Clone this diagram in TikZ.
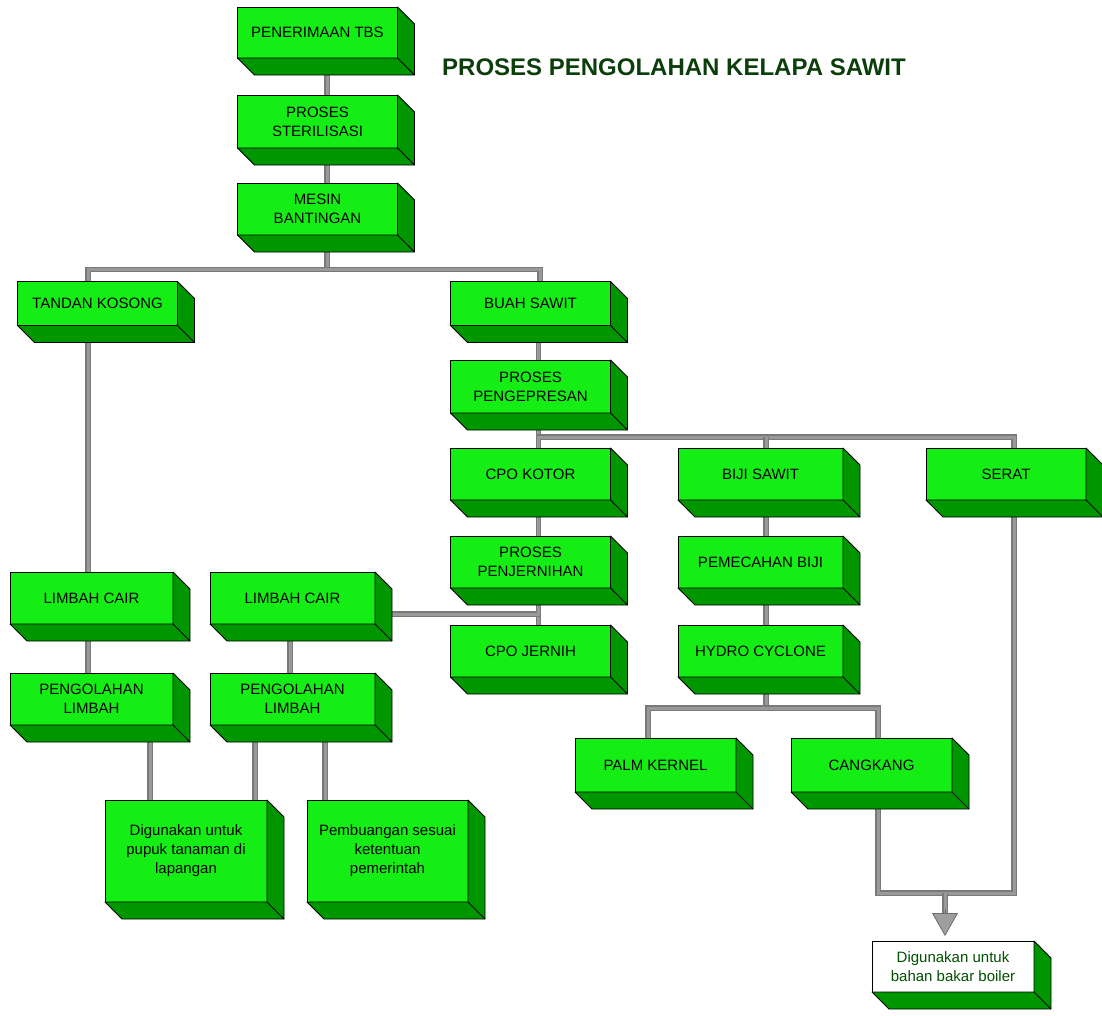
\documentclass[tikz,border=0pt]{standalone}
\usepackage{fontspec}
\setmainfont{Liberation Sans}
\usepackage{tikz}
\usetikzlibrary{arrows.meta}
\usetikzlibrary{backgrounds}

\definecolor{leaf}{RGB}{20,238,20}
\definecolor{shade}{RGB}{0,150,0}
\definecolor{title}{RGB}{12,62,12}
\definecolor{ink}{RGB}{0,80,0}

\begin{document}
\begin{tikzpicture}[x=1pt,y=-1pt,
	box/.style={rectangle,draw=black,line width=0.8pt,fill=leaf,inner sep=0pt,outer sep=0pt,
		minimum width=160,minimum height=52,align=center,font=\fontsize{15}{19}\selectfont},
	link/.style={draw=gray!95!black,line width=1.1pt,double=gray!80,double distance=3pt}]
	\useasboundingbox (0,0) rectangle (1102,1015);

	\node[text=title,font=\fontsize{24}{28}\selectfont\bfseries] (0) at (674,67) {PROSES PENGOLAHAN KELAPA SAWIT};

	\begin{scope}[every node/.style={box}]
		\node[minimum height=51] (1) at (317.5,32.5) {PENERIMAAN TBS};
		\node[minimum height=53] (2) at (317.5,121.5) {PROSES\\STERILISASI};
		\node (3) at (317.5,209) {MESIN\\BANTINGAN};
		\node[minimum height=44] (4) at (97.5,303.5) {TANDAN KOSONG};
		\node[minimum height=44] (5) at (530.5,303.5) {BUAH SAWIT};
		\node[minimum height=53] (6) at (530.5,386.5) {PROSES\\PENGEPRESAN};

		\node (7) at (530.5,474) {CPO KOTOR};
		\node[minimum width=165] (8) at (760.5,474) {BIJI SAWIT};
		\node (9) at (1006,474) {SERAT};
		\node (10) at (530.5,562) {PROSES\\PENJERNIHAN};
		\node[minimum width=165] (11) at (760.5,562) {PEMECAHAN BIJI};
		\node (12) at (530.5,651) {CPO JERNIH};
		\node[minimum width=165] (13) at (760.5,651) {HYDRO CYCLONE};
		\node[minimum width=161,minimum height=54] (14) at (655.5,765) {PALM KERNEL};
		\node[minimum width=161,minimum height=54] (15) at (871.5,765) {CANGKANG};

		\node[minimum width=163] (16) at (91.5,598) {LIMBAH CAIR};
		\node[minimum width=165] (17) at (292.5,598) {LIMBAH CAIR};
		\node[minimum width=163] (18) at (91.5,699) {PENGOLAHAN\\LIMBAH};
		\node[minimum width=165] (19) at (292.5,699) {PENGOLAHAN\\LIMBAH};
		\node[minimum width=162,minimum height=102] (20) at (186,851) {Digunakan untuk\\pupuk tanaman di\\lapangan};
		\node[minimum width=161,minimum height=102] (21) at (387.5,851) {Pembuangan sesuai\\ketentuan\\pemerintah};
		\node[minimum width=162,minimum height=51,fill=white,text=ink] (22) at (953,966.5) {Digunakan untuk\\bahan bakar boiler};
	\end{scope}

	% depth of the blocks
	\foreach \n in {1,...,22}
	{
		\filldraw[fill=shade,draw=black,line width=0.8pt,line join=round]
			(\n.south west) -- (\n.south east) -- (\n.north east) -- ++(17,17)
			-- ([shift={(17,17)}]\n.south east) -- ([shift={(17,17)}]\n.south west) -- cycle;
		\draw[line width=0.8pt] (\n.south east) -- ++(17,17);
	}

	\begin{scope}[on background layer]
		\draw[link] ([xshift=9.5]1.south) -- ([xshift=9.5]2.north);
		\draw[link] ([xshift=9.5]2.south) -- ([xshift=9.5]3.north);
		\draw[link] ([xshift=9.5]3.south) -- ++(0,35);
		\draw[link] ([xshift=-9.5]4.north) -- ++(0,-12) -| ([xshift=9.5]5.north);
		\draw[link] ([xshift=8]5.south) -- ([xshift=8]6.north);
		\draw[link] ([xshift=8]6.south) -- ++(0,24);
		\draw[link] ([xshift=8]7.north) -- ++(0,-11) -| ([xshift=8]9.north);
		\draw[link] ([xshift=5.5]8.north) -- ++(0,-11);
		\draw[link] ([xshift=8]7.south) -- ([xshift=8]10.north);
		\draw[link] ([xshift=8]10.south) -- ([xshift=8]12.north);
		\draw[link] ([xshift=5.5]8.south) -- ([xshift=5.5]11.north);
		\draw[link] ([xshift=5.5]11.south) -- ([xshift=5.5]13.north);
		\draw[link] ([xshift=5.5]13.south) -- ++(0,31);
		\draw[link] ([xshift=-7.5]14.north) -- ++(0,-30) -| ([xshift=6.5]15.north);

		\draw[link] ([xshift=-9.5]4.south) -- ([xshift=-3.5]16.north);
		\draw[link] ([xshift=-3.5]16.south) -- ([xshift=-3.5]18.north);
		\draw[link] ([xshift=-2.5]17.south) -- ([xshift=-2.5]19.north);
		\draw[link] ([yshift=-16]17.east) -| ([xshift=8]10.south);
		\draw[link] ([xshift=58.5]18.south) -- ([xshift=-36]20.north);
		\draw[link] ([xshift=-37.5]19.south) -- ([xshift=69]20.north);
		\draw[link] ([xshift=32.5]19.south) -- ([xshift=-62.5]21.north);

		% waste to boiler
		\coordinate (jb) at (945,893);
		\draw[link] ([xshift=6.5]15.south) -- ++(0,101) -| ([xshift=8]9.south);
		\draw[link] (jb) -- ([xshift=-8,yshift=26]22.north);
		\draw[draw=gray!85!black,line width=0.8pt,
			-{Triangle[width=26pt,length=23pt,fill=gray!75]}]
			([xshift=-8,yshift=32]22.north) -- ([xshift=-8,yshift=5]22.north);
	\end{scope}
\end{tikzpicture}
\end{document}
